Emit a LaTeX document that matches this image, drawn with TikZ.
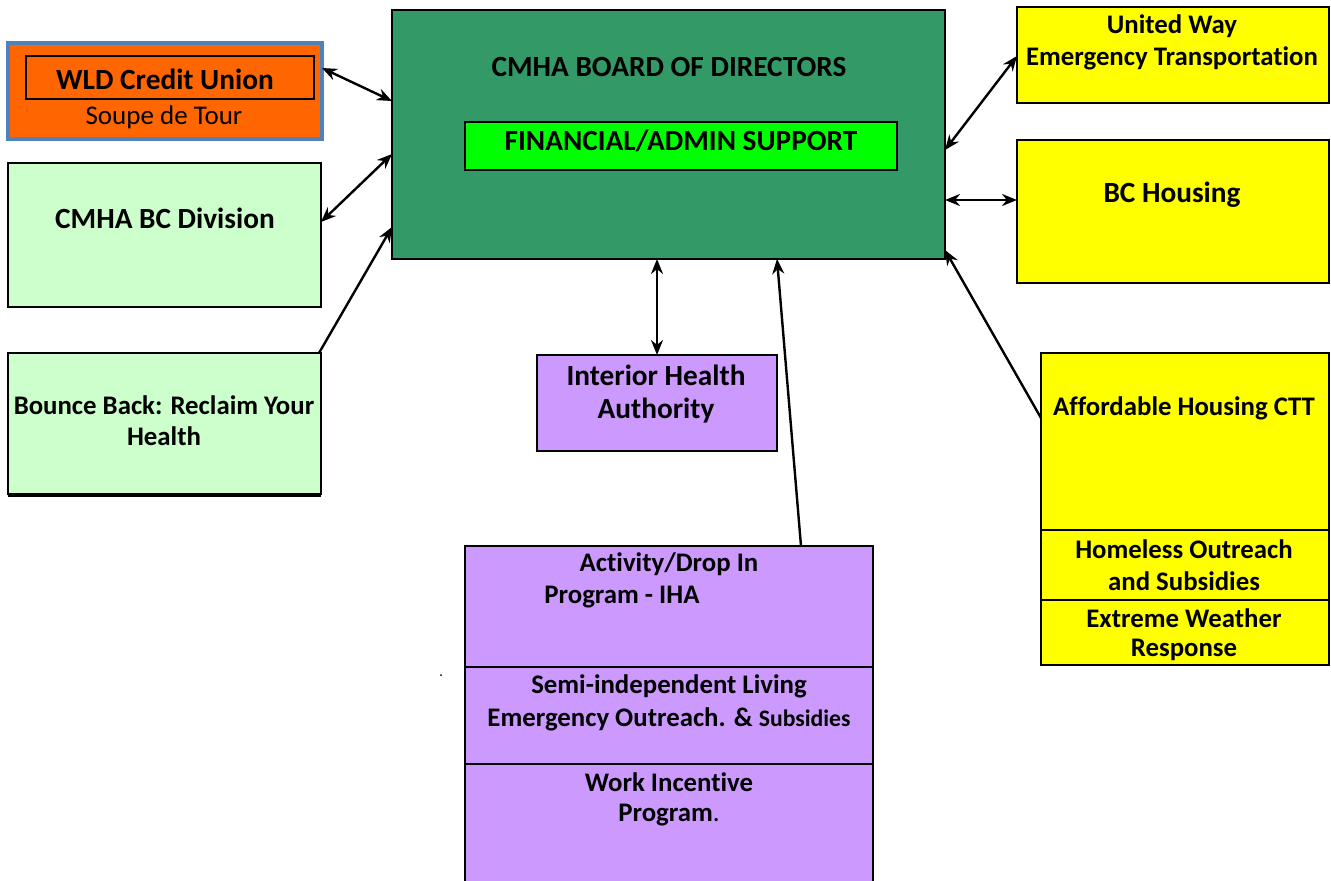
\documentclass[tikz,border=0pt]{standalone}
\usepackage{fontspec}
\setmainfont{Carlito}[Ligatures=NoCommon]
\usetikzlibrary{arrows.meta}
\definecolor{seagreen}{HTML}{339966}
\definecolor{limeband}{HTML}{00FF00}
\definecolor{mint}{HTML}{CCFFCC}
\definecolor{lemon}{HTML}{FFFF00}
\definecolor{lilac}{HTML}{CC99FF}
\definecolor{tangerine}{HTML}{FF6600}
\definecolor{steel}{HTML}{4F81BD}
\begin{document}
\begin{tikzpicture}[x=1pt,y=-1pt,
  box/.style={draw=black, line width=1.8pt, inner sep=0pt, outer sep=0pt},
  lbl/.style={font=\bfseries\fontsize{26.8}{32}\selectfont, inner sep=0pt, anchor=center},
  big/.style={font=\bfseries\fontsize{29.3}{35}\selectfont, inner sep=0pt, anchor=center},
  link/.style={line width=2.4pt, -{Stealth[length=15pt,width=12pt]}},
  dbl/.style={line width=2.4pt, {Stealth[length=15pt,width=12pt]}-{Stealth[length=15pt,width=12pt]}},
]
\clip (0,0) rectangle (1331,881);
\fill[white] (0,0) rectangle (1331,881);

% central board with its admin band
\node[box, fill=seagreen, minimum width=553pt, minimum height=249pt] (board) at (668.5,134.5) {};
\node[box, fill=limeband, minimum width=432pt, minimum height=48pt] (fin) at (681,146) {};
\node[big] (boardT) at (669,67) {CMHA BOARD OF DIRECTORS};
\node[big] (finT) at (681,141) {FINANCIAL/ADMIN SUPPORT};

% left column
\node[draw=steel, line width=4.5pt, fill=tangerine, inner sep=0pt, outer sep=0pt,
      minimum width=314pt, minimum height=96pt] (wld) at (165,91) {};
\node[draw=black, line width=1.5pt, inner sep=0pt, outer sep=0pt,
      minimum width=288pt, minimum height=43pt] (wldin) at (170,77.5) {};
\node[big] (wldT) at (165,79) {WLD Credit Union};
\node[font=\fontsize{27}{32}\selectfont, inner sep=0pt] (wldS) at (164,117) {Soupe de Tour};

\node[box, fill=mint, minimum width=313pt, minimum height=144pt] (bcdiv) at (164.5,235) {};
\node[big] (bcdivT) at (165,218) {CMHA BC Division};

\node[box, fill=mint, minimum width=313pt, minimum height=141pt] (bounce) at (164.5,423.5) {};
\draw[line width=4pt] (bounce.south west) ++(0,1) -- ([yshift=-1pt]bounce.south east);
\node[lbl] (bounceA) at (164,405) {Bounce Back: Reclaim Your};
\node[lbl] (bounceB) at (164,436) {Health};

% right column
\node[box, fill=lemon, minimum width=312pt, minimum height=96pt] (uw) at (1173,55) {};
\node[lbl] (uwA) at (1172,26) {United Way};
\node[lbl] (uwB) at (1172,58) {Emergency Transportation};

\node[box, fill=lemon, minimum width=312pt, minimum height=143pt] (bch) at (1173,211.5) {};
\node[big] (bchT) at (1172,195) {BC Housing};

\node[box, fill=lemon, minimum width=288pt, minimum height=177pt] (aff) at (1185,441.5) {};
\node[box, fill=lemon, minimum width=288pt, minimum height=70pt] (hom) at (1185,565) {};
\node[box, fill=lemon, minimum width=288pt, minimum height=65pt] (ext) at (1185,632.5) {};
\node[lbl] (affT) at (1184,408) {Affordable Housing CTT};
\node[lbl] (homA) at (1184,549) {Homeless Outreach};
\node[lbl] (homB) at (1184,581) {and Subsidies};
\node[lbl] (extA) at (1184,618) {Extreme Weather};
\node[lbl] (extB) at (1184,650) {Response};

% lower centre
\node[box, fill=lilac, minimum width=240pt, minimum height=96pt] (iha) at (657,403) {};
\node[big] (ihaA) at (656,375) {Interior Health};
\node[big] (ihaB) at (656,411) {Authority};

\node[box, fill=lilac, minimum width=408pt, minimum height=121pt] (act) at (669,606.5) {};
\node[box, fill=lilac, minimum width=408pt, minimum height=97pt] (semi) at (669,715.5) {};
\node[box, fill=lilac, minimum width=408pt, minimum height=124pt] (work) at (669,826) {};
\node[lbl] (actA) at (669,564) {Activity/Drop In};
\node[lbl] (actB) at (622,597) {Program - IHA};
\node[lbl] (semiA) at (669,686) {Semi-independent Living};
\node[lbl] (semiB) at (669,719) {Emergency Outreach. \& {\fontsize{23.7}{28}\selectfont Subsidies}};
\node[lbl] (workA) at (669,782) {Work Incentive};
\node[lbl] (workB) at (669,815) {Program{\mdseries .}};

\fill (441,675) circle (1pt);

% connectors
\draw[dbl] (wld.east |- 0,68) -- (board.west |- 0,101);
\draw[dbl] (bcdiv.east |- 0,222) -- (board.west |- 0,154);
\draw[link] (bounce.north east) ++(-2,0) -- (board.west |- 0,227);
\draw[dbl] (board.east |- 0,150) -- (uw.west |- 0,56);
\draw[dbl] (board.east |- 0,200) -- (bch.west |- 0,200);
\draw[link] (aff.west |- 0,418) -- (board.east |- 0,250);
\draw[dbl] (iha.north -| 657,0) -- (board.south -| 657,0);
\draw[link] (act.north -| 801,0) -- (board.south -| 777,0);
\end{tikzpicture}
\end{document}
